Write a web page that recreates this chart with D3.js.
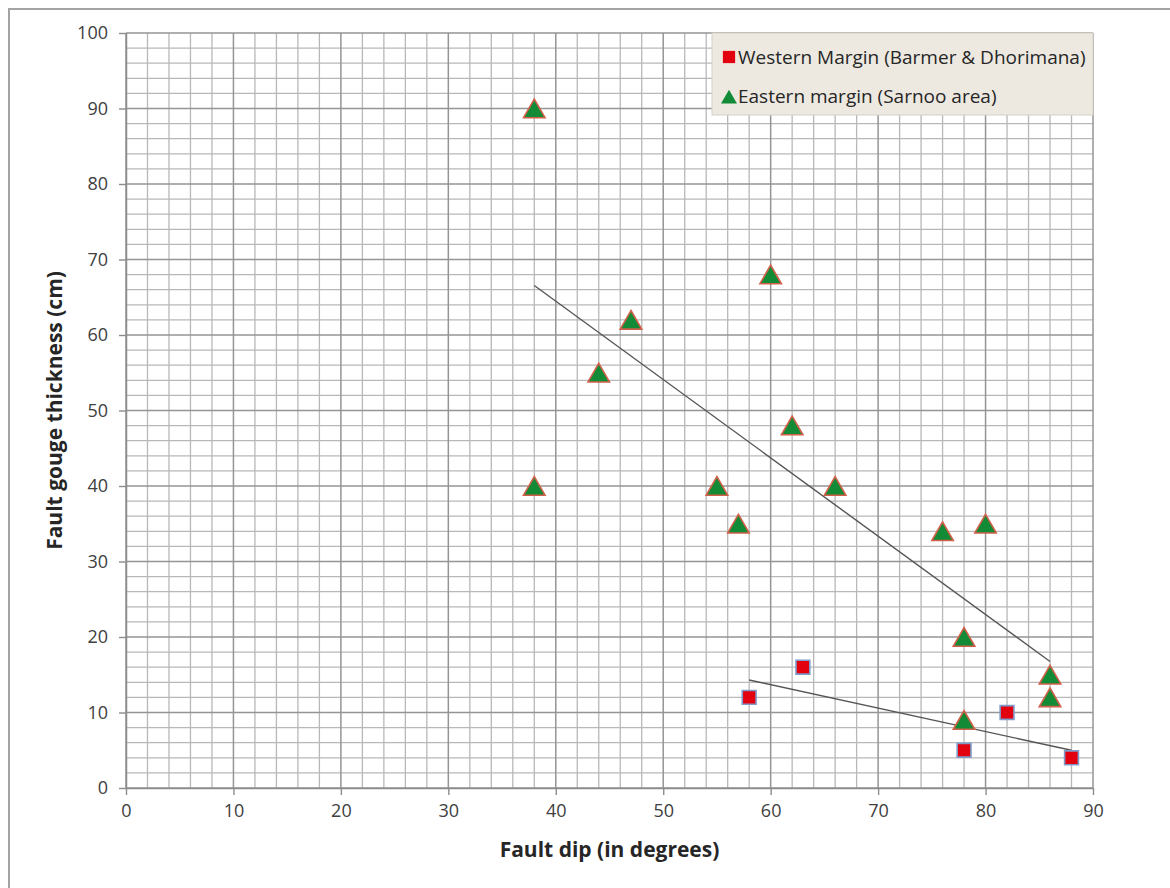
<!DOCTYPE html>
<html>
<head>
<meta charset="utf-8">
<script src="https://cdn.jsdelivr.net/npm/d3@7"></script>
<style>
  html, body { margin: 0; padding: 0; background: #fff; }
  svg { display: block; font-family: "Open Sans", "Noto Sans", sans-serif; }
</style>
</head>
<body>
<svg id="chart" width="1170" height="888"></svg>
<script>
// Western margin (Barmer & Dhorimana) measurements
const westDip = [58, 63, 78, 82, 88];
const westThickness = [12, 16, 5, 10, 4];

// Eastern margin (Sarnoo area) measurements
const eastDip = [38, 38, 44, 47, 55, 57, 60, 62, 66, 76, 80, 78, 86, 86, 78];
const eastThickness = [90, 40, 55, 62, 40, 35, 68, 48, 40, 34, 35, 20, 15, 12, 9];

const xTicks = [0, 10, 20, 30, 40, 50, 60, 70, 80, 90];
const yTicks = [0, 10, 20, 30, 40, 50, 60, 70, 80, 90, 100];
const seriesNames = ["Western Margin (Barmer & Dhorimana)", "Eastern margin (Sarnoo area)"];

const svg = d3.select("#chart");

// outer chart frame (only top and left edges fall inside the page)
svg.append("rect")
  .attr("x", 9).attr("y", 9).attr("width", 1200).attr("height", 900)
  .attr("fill", "none").attr("stroke", "#a3a3a3").attr("stroke-width", 2);

const x = d3.scaleLinear().domain([0, 90]).range([126, 1093]);
const y = d3.scaleLinear().domain([0, 100]).range([788, 33]);

// minor grid, every 2 units
const g = svg.append("g");
const minorX = d3.range(0, 91, 2).filter(v => v % 10 !== 0);
const minorY = d3.range(0, 101, 2).filter(v => v % 10 !== 0);
g.selectAll(".mx").data(minorX).join("line")
  .attr("x1", d => x(d)).attr("x2", d => x(d))
  .attr("y1", y(100)).attr("y2", y(0))
  .attr("stroke", "#b8b8b8").attr("stroke-width", 1.3);
g.selectAll(".my").data(minorY).join("line")
  .attr("y1", d => y(d)).attr("y2", d => y(d))
  .attr("x1", x(0)).attr("x2", x(90))
  .attr("stroke", "#b8b8b8").attr("stroke-width", 1.3);

// major grid
g.selectAll(".Mx").data(xTicks).join("line")
  .attr("x1", d => x(d)).attr("x2", d => x(d))
  .attr("y1", y(100)).attr("y2", y(0))
  .attr("stroke", "#959595").attr("stroke-width", 1.5);
g.selectAll(".My").data(yTicks).join("line")
  .attr("y1", d => y(d)).attr("y2", d => y(d))
  .attr("x1", x(0)).attr("x2", x(90))
  .attr("stroke", "#959595").attr("stroke-width", 1.5);

// axes
const xAxis = d3.axisBottom(x).tickValues(xTicks).tickSize(7).tickSizeOuter(0).tickPadding(9);
const yAxis = d3.axisLeft(y).tickValues(yTicks).tickSize(7).tickSizeOuter(0).tickPadding(11);

const gx = svg.append("g").attr("transform", `translate(0,${y(0)})`).call(xAxis);
const gy = svg.append("g").attr("transform", `translate(${x(0)},0)`).call(yAxis);
[gx, gy].forEach(a => {
  a.select(".domain").attr("stroke", "#8c8c8c").attr("stroke-width", 1.5);
  a.selectAll(".tick line").attr("stroke", "#8c8c8c").attr("stroke-width", 1.4);
  a.selectAll(".tick text")
    .attr("fill", "#404040")
    .style("font-size", "18px")
    .style("font-family", "'Open Sans', 'Noto Sans', sans-serif");
});

// least-squares trend lines drawn across each series' dip range
function trend(xs, ys) {
  const mx = d3.mean(xs), my = d3.mean(ys);
  let sxy = 0, sxx = 0;
  xs.forEach((v, i) => { sxy += (v - mx) * (ys[i] - my); sxx += (v - mx) * (v - mx); });
  const b = sxy / sxx, a = my - b * mx;
  const x0 = d3.min(xs), x1 = d3.max(xs);
  return [[x0, a + b * x0], [x1, a + b * x1]];
}
const line = d3.line().x(d => x(d[0])).y(d => y(d[1]));
[trend(eastDip, eastThickness), trend(westDip, westThickness)].forEach(t => {
  svg.append("path").attr("d", line(t))
    .attr("fill", "none").attr("stroke", "#555").attr("stroke-width", 1.4);
});

// markers
const triSym = d3.symbol().type(d3.symbolTriangle).size(200);
const sqSym = d3.symbol().type(d3.symbolSquare).size(190);

svg.append("g").selectAll("path")
  .data(westDip.map((d, i) => [d, westThickness[i]]))
  .join("path")
  .attr("d", sqSym)
  .attr("transform", d => `translate(${x(d[0])},${y(d[1])})`)
  .attr("fill", "#e3000f").attr("stroke", "#7f9bc9").attr("stroke-width", 1.6);

// triangles centred on their bounding box rather than their centroid
svg.append("g").selectAll("path")
  .data(eastDip.map((d, i) => [d, eastThickness[i]]))
  .join("path")
  .attr("d", triSym)
  .attr("transform", d => `translate(${x(d[0])},${y(d[1]) + 3})`)
  .attr("fill", "#138a36").attr("stroke", "#d0604a").attr("stroke-width", 1.6);

// legend
const lg = svg.append("g");
lg.append("rect")
  .attr("x", 712).attr("y", 33).attr("width", 381).attr("height", 82)
  .attr("fill", "#ede9e1").attr("stroke", "#d6d1c7").attr("stroke-width", 1);
lg.append("path").attr("d", d3.symbol().type(d3.symbolSquare).size(150))
  .attr("transform", "translate(729,57)").attr("fill", "#e3000f");
lg.append("path").attr("d", d3.symbol().type(d3.symbolTriangle).size(110))
  .attr("transform", "translate(729,99)").attr("fill", "#138a36");
lg.selectAll("text").data(seriesNames).join("text")
  .attr("x", 738).attr("y", (d, i) => 64 + i * 39)
  .attr("fill", "#262626")
  .style("font-size", "19px")
  .text(d => d);

// axis titles
svg.append("text")
  .attr("x", x(45)).attr("y", 857)
  .attr("text-anchor", "middle")
  .attr("fill", "#262626")
  .style("font-size", "21px").style("font-weight", "bold")
  .text("Fault dip (in degrees)");
svg.append("text")
  .attr("transform", `translate(62,${y(50)}) rotate(-90)`)
  .attr("text-anchor", "middle")
  .attr("fill", "#262626")
  .style("font-size", "21px").style("font-weight", "bold")
  .text("Fault gouge thickness (cm)");
</script>
</body>
</html>
